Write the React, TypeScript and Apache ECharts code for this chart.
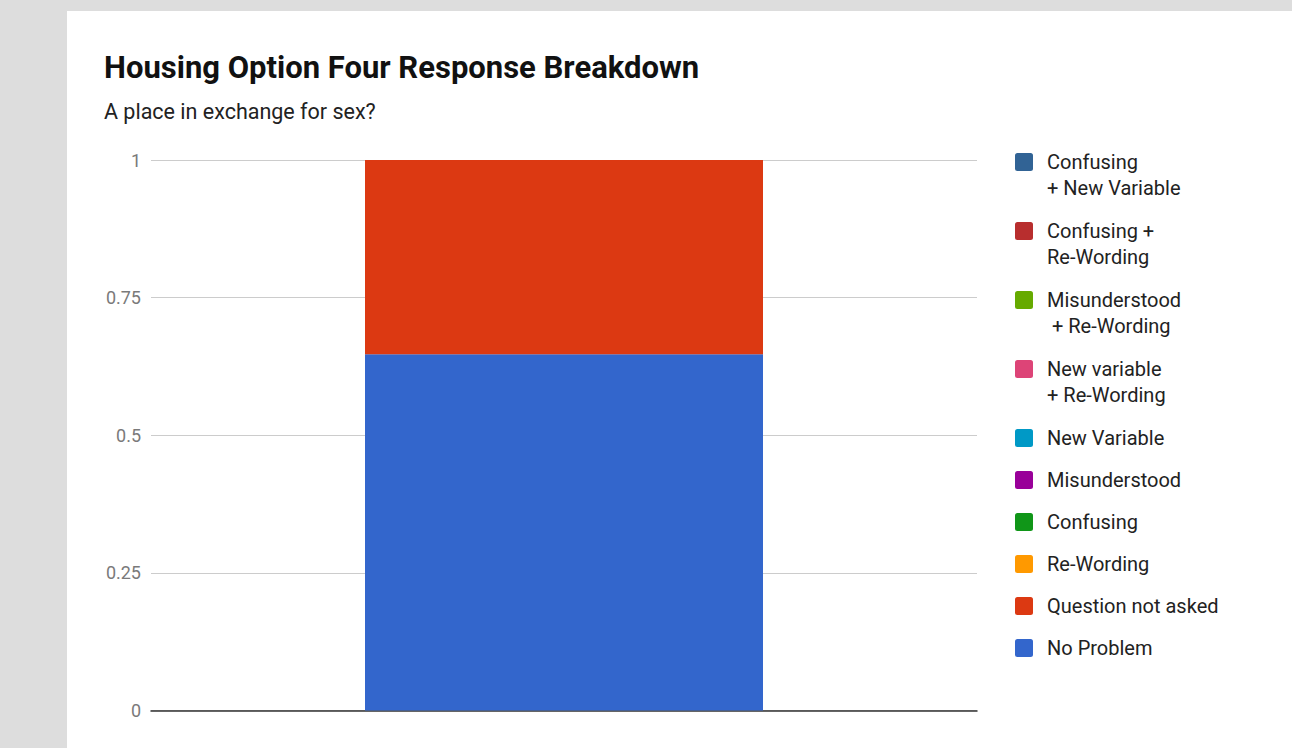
import React, { useEffect, useRef } from "react";
import * as echarts from "echarts";

const categories = ["Housing Option Four"];

// bottom-to-top stacking order
const seriesNames = [
  "No Problem",
  "Question not asked",
  "Re-Wording",
  "Confusing",
  "Misunderstood",
  "New Variable",
  "New variable\n+ Re-Wording",
  "Misunderstood\n + Re-Wording",
  "Confusing +\nRe-Wording",
  "Confusing\n+ New Variable",
];

const seriesValues = [
  [0.647],
  [0.353],
  [0],
  [0],
  [0],
  [0],
  [0],
  [0],
  [0],
  [0],
];

const seriesColors = [
  "#3366cc",
  "#dc3912",
  "#ff9900",
  "#109618",
  "#990099",
  "#0099c6",
  "#dd4477",
  "#66aa00",
  "#b82e2e",
  "#316395",
];

const yTicks = [0, 0.25, 0.5, 0.75, 1];

const titleText = "Housing Option Four Response Breakdown";
const subtitleText = "A place in exchange for sex?";

export default function App() {
  const ref = useRef<HTMLDivElement>(null);

  useEffect(() => {
    if (!ref.current) return;
    const chart = echarts.init(ref.current, null, { renderer: "svg" });
    const font = "Roboto, 'Noto Sans', sans-serif";
    const squareIcon =
      "path://M2.5,0 H15.5 Q18,0 18,2.5 V15.5 Q18,18 15.5,18 H2.5 Q0,18 0,15.5 V2.5 Q0,0 2.5,0 Z";

    // legend: top to bottom is reverse of stacking order
    const legendOrder = seriesNames.map((_, i) => seriesNames.length - 1 - i);
    const legends: any[] = [];
    let iconTop = 153;
    legendOrder.forEach((si) => {
      const name = seriesNames[si];
      const twoLine = name.includes("\n");
      legends.push({
        orient: "vertical",
        left: 1015,
        top: twoLine ? iconTop - 30 : iconTop - 4,
        padding: 0,
        itemWidth: 18,
        itemHeight: 18,
        icon: squareIcon,
        selectedMode: false,
        data: [name],
        formatter: (n: string) => (twoLine ? "\n" + n : n),
        textStyle: {
          fontFamily: font,
          fontSize: 20,
          lineHeight: 26,
          color: "#222222",
          padding: [0, 0, 0, 9],
        },
      });
      iconTop += twoLine ? 69 : 42;
    });

    chart.setOption({
      animation: false,
      backgroundColor: "#dddddd",
      graphic: [
        {
          type: "rect",
          z: -1,
          shape: { x: 67, y: 11, width: 1300, height: 800 },
          style: { fill: "#ffffff" },
          silent: true,
        },
      ],
      title: [
        {
          text: titleText,
          left: 104,
          top: 52,
          padding: 0,
          textStyle: {
            fontFamily: font,
            fontSize: 31,
            fontWeight: "bold",
            color: "#111111",
          },
        },
        {
          text: subtitleText,
          left: 104,
          top: 100,
          padding: 0,
          textStyle: {
            fontFamily: font,
            fontSize: 21.5,
            fontWeight: "normal",
            color: "#222222",
          },
        },
      ],
      legend: legends,
      grid: {
        left: 151,
        right: 315,
        top: 160,
        bottom: 37.5,
        containLabel: false,
      },
      xAxis: {
        type: "category",
        data: categories,
        axisLine: { show: true, lineStyle: { color: "#333333", width: 1.5 } },
        axisTick: { show: false },
        axisLabel: { show: false },
      },
      yAxis: {
        type: "value",
        min: yTicks[0],
        max: yTicks[yTicks.length - 1],
        interval: 0.25,
        axisLine: { show: false },
        axisTick: { show: false },
        axisLabel: {
          color: "#7a7a7a",
          fontFamily: font,
          fontSize: 18,
          margin: 10,
        },
        splitLine: { lineStyle: { color: "#cccccc", width: 1 } },
      },
      series: seriesNames.map((name, i) => ({
        name,
        type: "bar",
        stack: "total",
        barWidth: 398,
        data: seriesValues[i],
        itemStyle: { color: seriesColors[i] },
      })),
    });

    return () => chart.dispose();
  }, []);

  return (
    <div
      ref={ref}
      style={{ position: "fixed", left: 0, top: 0, width: 1292, height: 748 }}
    />
  );
}
